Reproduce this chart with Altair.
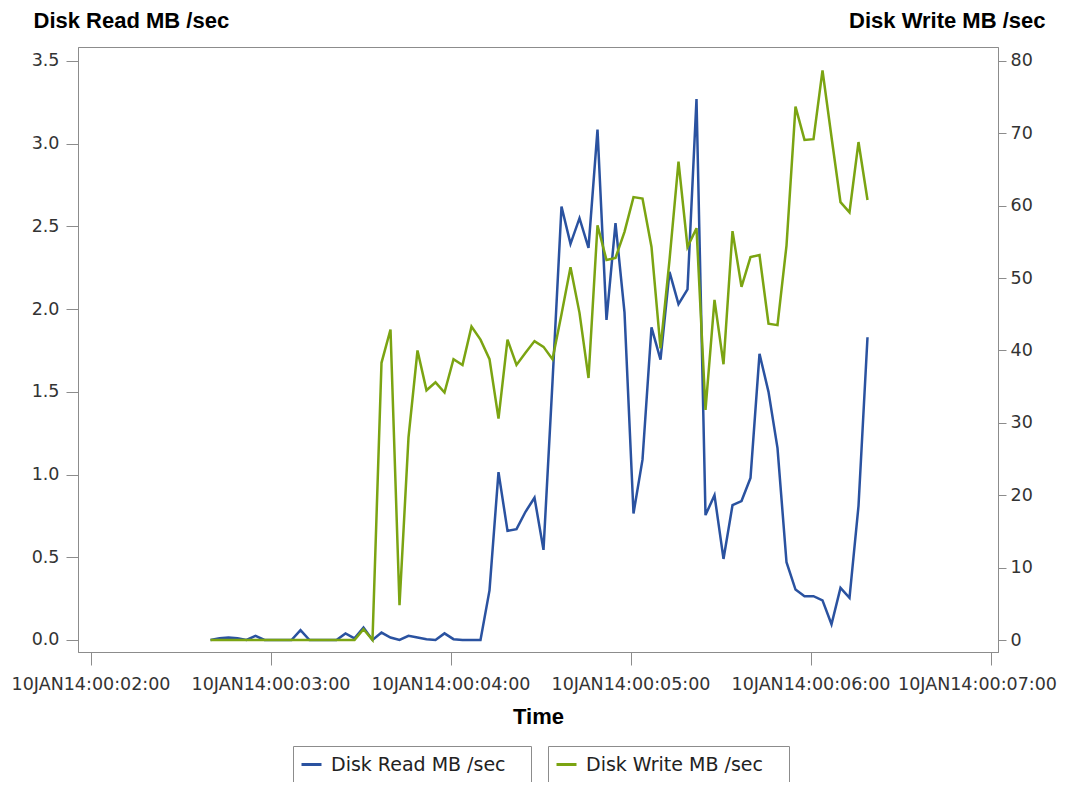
import altair as alt
import pandas as pd

# ---------------- data ----------------
TIMES = [
    "00:02:40", "00:02:43", "00:02:46", "00:02:49", "00:02:52", "00:02:55", "00:02:58", "00:03:01", "00:03:04", "00:03:07",
    "00:03:10", "00:03:13", "00:03:16", "00:03:19", "00:03:22", "00:03:25", "00:03:28", "00:03:31", "00:03:34", "00:03:37",
    "00:03:40", "00:03:43", "00:03:46", "00:03:49", "00:03:52", "00:03:55", "00:03:58", "00:04:01", "00:04:04", "00:04:07",
    "00:04:10", "00:04:13", "00:04:16", "00:04:19", "00:04:22", "00:04:25", "00:04:28", "00:04:31", "00:04:34", "00:04:37",
    "00:04:40", "00:04:43", "00:04:46", "00:04:49", "00:04:52", "00:04:55", "00:04:58", "00:05:01", "00:05:04", "00:05:07",
    "00:05:10", "00:05:13", "00:05:16", "00:05:19", "00:05:22", "00:05:25", "00:05:28", "00:05:31", "00:05:34", "00:05:37",
    "00:05:40", "00:05:43", "00:05:46", "00:05:49", "00:05:52", "00:05:55", "00:05:58", "00:06:01", "00:06:04", "00:06:07",
    "00:06:10", "00:06:13", "00:06:16", "00:06:19",
]

READ = [
    0.00, 0.01, 0.015, 0.01, 0.00, 0.025, 0.00, 0.00, 0.00, 0.00,
    0.06, 0.00, 0.00, 0.00, 0.00, 0.04, 0.01, 0.075, 0.00, 0.045,
    0.015, 0.00, 0.025, 0.015, 0.005, 0.00, 0.04, 0.005, 0.00, 0.00,
    0.00, 0.30, 1.015, 0.66, 0.67, 0.775, 0.86, 0.545, 1.56, 2.62,
    2.395, 2.55, 2.37, 3.085, 1.935, 2.52, 1.98, 0.765, 1.09, 1.89,
    1.695, 2.225, 2.03, 2.12, 3.27, 0.755, 0.875, 0.49, 0.815, 0.84,
    0.98, 1.73, 1.50, 1.16, 0.47, 0.305, 0.265, 0.265, 0.24, 0.095,
    0.315, 0.255, 0.81, 1.83,
]

WRITE = [
    0.0, 0.0, 0.0, 0.0, 0.0, 0.0, 0.0, 0.0, 0.0, 0.0,
    0.0, 0.0, 0.0, 0.0, 0.0, 0.0, 0.0, 1.5, 0.0, 38.3,
    42.9, 4.8, 28.0, 40.0, 34.5, 35.6, 34.2, 38.8, 38.0, 43.3,
    41.5, 38.8, 30.6, 41.5, 38.0, 39.7, 41.3, 40.5, 38.8, 45.0,
    51.5, 45.2, 36.2, 57.3, 52.5, 52.8, 56.4, 61.2, 61.0, 54.3,
    40.3, 52.5, 66.1, 54.3, 56.9, 31.8, 47.0, 38.1, 56.5, 48.8,
    52.9, 53.2, 43.7, 43.5, 54.5, 73.7, 69.1, 69.2, 78.7, 69.5,
    60.5, 59.1, 68.8, 60.8,
]

READ_NAME = "Disk Read MB /sec"
WRITE_NAME = "Disk Write MB /sec"
X_TICK_MINUTES = [2, 3, 4, 5, 6, 7]
LEFT_TICKS = [0.0, 0.5, 1.0, 1.5, 2.0, 2.5, 3.0, 3.5]
RIGHT_TICKS = [0, 10, 20, 30, 40, 50, 60, 70, 80]

BLUE = "#2a52a0"
GREEN = "#7ba412"
FRAME = "#8c8c8c"

df = pd.DataFrame({
    "time": ["2014-01-10T" + t + "Z" for t in TIMES],
    "read": READ,
    "write": WRITE,
})


def dt(minutes, seconds=0, ms=0):
    return alt.DateTime(year=2014, month=1, date=10, hours=0, minutes=minutes,
                        seconds=seconds, milliseconds=ms, utc=True)


x_enc = alt.X(
    "time:T",
    title="Time",
    scale=alt.Scale(type="utc", domain=[dt(1, 55, 833), dt(7, 2, 500)], nice=False),
    axis=alt.Axis(
        values=[dt(m) for m in X_TICK_MINUTES],
        labelExpr="upper(utcFormat(datum.value, '%d%b%y:%H:%M:%S'))",
        tickSize=13, labelPadding=10, labelFlush=10, labelFlushOffset=66,
        labelOverlap=False,
        titleX=460, titleY=71, titleBaseline="alphabetic", titleAlign="center",
    ),
)

legend_common = dict(
    title=None, orient="none", direction="horizontal",
    strokeColor=FRAME, fillColor="white", padding=7, cornerRadius=0,
    symbolType="stroke", symbolSize=400, symbolStrokeWidth=3,
    labelFont="DejaVu Sans", labelFontSize=19, labelColor="#222222",
    labelOffset=8, labelLimit=600,
    labelExpr="datum.label + '\u00a0\u00a0\u00a0\u200b'",
)

read_line = alt.Chart(df).transform_calculate(
    series=f"'{READ_NAME}'"
).mark_line(strokeWidth=2.5).encode(
    x=x_enc,
    y=alt.Y(
        "read:Q",
        scale=alt.Scale(domain=[-0.07254, 3.5846], nice=False, zero=False),
        axis=alt.Axis(
            orient="left", values=LEFT_TICKS, format=".1f", title=READ_NAME,
            titleAngle=0, titleAlign="left", titleBaseline="alphabetic",
            titleX=-45, titleY=-20, tickSize=12, labelPadding=7,
        ),
    ),
    color=alt.Color(
        "series:N",
        scale=alt.Scale(domain=[READ_NAME], range=[BLUE]),
        legend=alt.Legend(legendX=215, legendY=699, **legend_common),
    ),
)

write_line = alt.Chart(df).transform_calculate(
    series=f"'{WRITE_NAME}'"
).mark_line(strokeWidth=2.5).encode(
    x=x_enc,
    y=alt.Y(
        "write:Q",
        scale=alt.Scale(domain=[-1.658, 81.934], nice=False, zero=False),
        axis=alt.Axis(
            orient="right", values=RIGHT_TICKS, format="d", title=WRITE_NAME,
            titleAngle=0, titleAlign="right", titleBaseline="alphabetic",
            titleX=47, titleY=-20, tickSize=8, labelPadding=4,
        ),
    ),
    stroke=alt.Stroke(
        "series:N",
        scale=alt.Scale(domain=[WRITE_NAME], range=[GREEN]),
        legend=alt.Legend(legendX=470, legendY=699, **legend_common),
    ),
)

chart = alt.layer(read_line, write_line).resolve_scale(
    y="independent"
).properties(
    width=920,
    height=605,
    autosize=alt.AutoSizeParams(type="none"),
    padding={"left": 70, "top": 39, "right": 60, "bottom": 130},
).configure_view(
    stroke=FRAME, strokeWidth=1
).configure_axis(
    grid=False,
    domainColor=FRAME, tickColor=FRAME,
    labelFont="DejaVu Sans", labelFontSize=17.5, labelColor="#333333",
    titleFont="Liberation Sans", titleFontSize=22, titleFontWeight="bold", titleColor="#000000",
)

chart.save("out.html", embed_options={"renderer": "svg", "actions": False})
